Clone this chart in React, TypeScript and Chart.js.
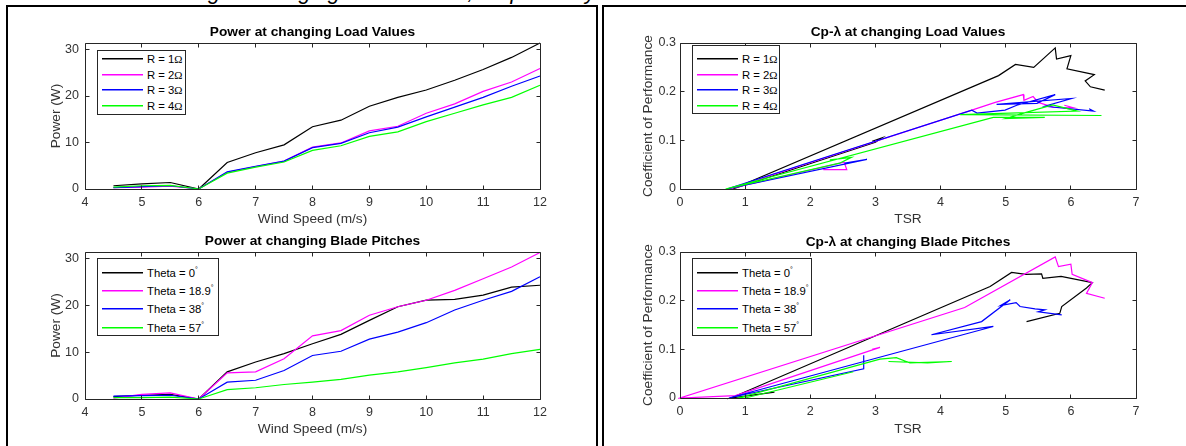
import React, { useEffect, useRef } from 'react';
import { Chart, registerables } from 'chart.js';

Chart.register(...registerables);

// ---------- data ----------
const windSpeed = [4.5, 5, 5.5, 6, 6.5, 7, 7.5, 8, 8.5, 9, 9.5, 10, 10.5, 11, 11.5, 12];

const powerR1 = [0.7, 1.1, 1.4, 0, 5.7, 7.8, 9.5, 13.4, 14.8, 17.8, 19.7, 21.3, 23.4, 25.7, 28.3, 31.4];
const powerR2 = [0.3, 0.4, 0.6, 0, 3.6, 4.8, 6.0, 9.0, 9.9, 12.5, 13.5, 16.3, 18.3, 21.0, 23.0, 25.9];
const powerR3 = [0.3, 0.5, 0.7, 0, 3.7, 4.9, 6.0, 8.9, 9.8, 12.1, 13.3, 15.5, 17.6, 19.7, 22.1, 24.3];
const powerR4 = [0.4, 0.7, 0.8, 0, 3.4, 4.7, 5.8, 8.3, 9.3, 11.3, 12.3, 14.5, 16.3, 18.1, 19.7, 22.3];

const powerT0 = [0.5, 0.8, 1.0, 0, 5.8, 7.9, 9.7, 11.8, 13.8, 16.8, 19.7, 21.1, 21.3, 22.2, 23.9, 24.3];
const powerT189 = [0.2, 1.0, 1.3, 0, 5.6, 5.8, 8.6, 13.5, 14.6, 17.9, 19.7, 21.1, 23.2, 25.7, 28.2, 31.3];
const powerT38 = [0.6, 0.7, 0.8, 0, 3.6, 4.0, 6.1, 9.3, 10.2, 12.8, 14.3, 16.3, 19.0, 21.1, 23.0, 26.1];
const powerT57 = [0.3, 0.3, 0.4, 0, 2.0, 2.4, 3.1, 3.6, 4.2, 5.1, 5.8, 6.7, 7.7, 8.5, 9.7, 10.6];

const tsrR1 = [2.95, 3.1, 3.0, 0.81, 4.89, 5.15, 5.43, 5.76, 5.78, 6.0, 5.94, 6.36, 6.22, 6.3, 6.52];
const cpR1 = [0.098, 0.105, 0.096, 0, 0.233, 0.256, 0.25, 0.29, 0.267, 0.274, 0.247, 0.235, 0.222, 0.21, 0.203];
const tsrR2 = [2.2, 2.56, 2.52, 0.75, 4.48, 4.84, 5.27, 5.28, 5.42, 5.5, 5.73, 6.04, 5.9];
const cpR2 = [0.04, 0.04, 0.055, 0, 0.162, 0.178, 0.194, 0.182, 0.19, 0.178, 0.168, 0.167, 0.172];
const tsrR3 = [2.53, 2.87, 0.72, 4.48, 4.56, 4.99, 5.17, 5.76, 5.48, 4.86, 6.01, 5.6, 6.35, 6.28];
const cpR3 = [0.053, 0.061, 0, 0.162, 0.156, 0.162, 0.172, 0.194, 0.176, 0.174, 0.186, 0.17, 0.16, 0.165];
const tsrR4 = [2.3, 2.63, 2.45, 0.7, 4.81, 5.6, 5.0, 5.3, 5.72, 6.1, 4.3, 6.47];
const cpR4 = [0.06, 0.065, 0.053, 0, 0.147, 0.147, 0.145, 0.157, 0.173, 0.16, 0.153, 0.151];

const tsrT0 = [1.45, 0.78, 4.76, 5.09, 5.31, 5.55, 5.57, 5.85, 6.33, 6.24, 5.86, 5.83, 5.32];
const cpT0 = [0.012, 0, 0.229, 0.258, 0.254, 0.255, 0.246, 0.25, 0.237, 0.226, 0.188, 0.174, 0.157];
const tsrT189 = [2.95, 3.07, 0.85, 0, 4.37, 5.76, 5.81, 6.0, 6.02, 6.33, 6.24, 6.52];
const cpT189 = [0.1, 0.104, 0.005, 0, 0.186, 0.29, 0.27, 0.275, 0.254, 0.237, 0.215, 0.205];
const tsrT38 = [2.82, 2.82, 0.75, 4.81, 3.86, 4.63, 5.07, 4.92, 5.16, 5.22, 5.45, 5.6, 5.5, 5.86];
const cpT38 = [0.088, 0.06, 0, 0.147, 0.13, 0.157, 0.202, 0.19, 0.196, 0.188, 0.183, 0.181, 0.177, 0.171];
const tsrT57 = [2.66, 1.0, 0.9, 3.07, 3.32, 3.53, 4.17, 3.8, 3.2];
const cpT57 = [0.054, 0, 0, 0.08, 0.083, 0.072, 0.075, 0.072, 0.075];

const loadLabels = ['R = 1', 'R = 2', 'R = 3', 'R = 4'];
const pitchLabels = ['Theta = 0', 'Theta = 18.9', 'Theta = 38', 'Theta = 57'];
const seriesColors = ['#000000', '#ff00ff', '#0000ff', '#00ff00'];

const windRange = [4, 12, 1];
const tsrRange = [0, 7, 1];
const powerRange = [0, 31.4, 10];
const cpRange = [0, 0.3, 0.1];

// ---------- styling ----------
const FONT = '"Liberation Sans", Arial, Helvetica, sans-serif';
const AXIS_COLOR = '#262626';
const TEXT_COLOR = '#333333';

const boxPlugin = {
  id: 'matlabBox',
  afterDatasetsDraw(chart: any) {
    const { ctx, chartArea: a, scales } = chart;
    const L = Math.floor(a.left) + 0.5;
    const R = Math.floor(a.right) + 0.5;
    const T = Math.floor(a.top) + 0.5;
    const B = Math.floor(a.bottom) + 0.5;
    ctx.save();
    ctx.strokeStyle = AXIS_COLOR;
    ctx.lineWidth = 1;
    ctx.beginPath();
    ctx.rect(L, T, R - L, B - T);
    const tl = 4;
    scales.x.ticks.forEach((t: any) => {
      const px = Math.floor(scales.x.getPixelForValue(t.value)) + 0.5;
      ctx.moveTo(px, B); ctx.lineTo(px, B - tl);
      ctx.moveTo(px, T); ctx.lineTo(px, T + tl);
    });
    scales.y.ticks.forEach((t: any) => {
      const py = Math.floor(scales.y.getPixelForValue(t.value)) + 0.5;
      ctx.moveTo(L, py); ctx.lineTo(L + tl, py);
      ctx.moveTo(R, py); ctx.lineTo(R - tl, py);
    });
    ctx.stroke();
    ctx.restore();
  },
};

function pairs(xs: number[], ys: number[]) {
  return xs.map((x, i) => ({ x, y: ys[i] }));
}

type PlotSpec = {
  xs: number[][];
  ys: number[][];
  labels: string[];
  xRange: number[];
  yRange: number[];
  xTitle: string;
  yTitle: string;
  padding: { left: number; right: number; top: number; bottom: number };
  yWidth: number;
  xHeight: number;
  yTickPad: number;
  xTitlePad: number;
  yTitlePad: number;
};

function buildConfig(p: PlotSpec): any {
  const datasets = p.ys.map((ys, i) => ({
    label: p.labels[i],
    data: pairs(p.xs[i], ys),
    borderColor: seriesColors[i],
    backgroundColor: seriesColors[i],
    borderWidth: 1.2,
    pointRadius: 0,
    showLine: true,
    fill: false,
    tension: 0,
    order: 3 - i,
    clip: 2,
  }));
  const tickFont = { family: FONT, size: 12.5 };
  const titleFont = { family: FONT, size: 13.7 };
  return {
    type: 'scatter',
    data: { datasets },
    options: {
      responsive: false,
      animation: false,
      events: [],
      layout: { padding: p.padding },
      plugins: { legend: { display: false }, title: { display: false }, tooltip: { enabled: false } },
      scales: {
        x: {
          type: 'linear',
          position: 'bottom',
          min: p.xRange[0],
          max: p.xRange[1],
          ticks: { stepSize: p.xRange[2], includeBounds: false, padding: 6.2, color: TEXT_COLOR, font: tickFont, maxRotation: 0, autoSkip: false },
          grid: { display: false, drawTicks: false },
          border: { display: false },
          title: { display: true, text: p.xTitle, color: TEXT_COLOR, font: titleFont, padding: { top: 0, bottom: p.xTitlePad } },
          afterFit: (s: any) => { s.height = p.xHeight; },
        },
        y: {
          type: 'linear',
          position: 'left',
          min: p.yRange[0],
          max: p.yRange[1],
          ticks: { stepSize: p.yRange[2], includeBounds: false, padding: p.yTickPad, color: TEXT_COLOR, font: tickFont, autoSkip: false },
          grid: { display: false, drawTicks: false },
          border: { display: false },
          title: { display: true, text: p.yTitle, color: TEXT_COLOR, font: titleFont, padding: { top: p.yTitlePad, bottom: 0 } },
          afterFit: (s: any) => { s.width = p.yWidth; },
        },
      },
    },
    plugins: [boxPlugin],
  };
}

function Plot({ left, top, width, height, spec }: { left: number; top: number; width: number; height: number; spec: PlotSpec }) {
  const ref = useRef<HTMLCanvasElement | null>(null);
  useEffect(() => {
    const chart = new Chart(ref.current as HTMLCanvasElement, buildConfig(spec));
    return () => chart.destroy();
  }, []);
  return (
    <div style={{ position: 'absolute', left, top, width, height }}>
      <canvas ref={ref} width={width} height={height} style={{ width, height, display: 'block' }} />
    </div>
  );
}

function Legend({ left, top, width, height, rows, entries }: { left: number; top: number; width: number; height: number; rows: number[]; entries: React.ReactNode[] }) {
  return (
    <div style={{ position: 'absolute', left, top, width, height, border: `1px solid ${AXIS_COLOR}`, background: '#fff', boxSizing: 'border-box' }}>
      {entries.map((e, i) => (
        <React.Fragment key={i}>
          <div style={{ position: 'absolute', left: 4, top: Math.round(rows[i] - top - 2), width: 41, height: 1, background: seriesColors[i], boxShadow: `0 0.5px 0 ${seriesColors[i]}` }} />
          <div style={{ position: 'absolute', left: 49, top: rows[i] - top - 8, height: 14, lineHeight: '14px', fontSize: 11.3, fontFamily: FONT, color: '#000', whiteSpace: 'nowrap' }}>{e}</div>
        </React.Fragment>
      ))}
    </div>
  );
}

const ohm = (l: string) => (<span>{l}<span style={{ fontFamily: '"Liberation Serif", "DejaVu Serif", serif', fontSize: 11 }}>Ω</span></span>);
const deg = (l: string) => (<span>{l}<sup style={{ fontSize: 7, verticalAlign: 'top', position: 'relative', top: -3 }}>°</sup></span>);

function Title({ left, width, top, text }: { left: number; width: number; top: number; text: string }) {
  return (
    <div style={{ position: 'absolute', left, width, top, textAlign: 'center', fontFamily: FONT, fontWeight: 'bold', fontSize: 13.7, lineHeight: '16px', color: '#000', whiteSpace: 'nowrap' }}>{text}</div>
  );
}

const specTL: PlotSpec = {
  xs: [windSpeed, windSpeed, windSpeed, windSpeed],
  ys: [powerR1, powerR2, powerR3, powerR4],
  labels: loadLabels, xRange: windRange, yRange: powerRange,
  xTitle: 'Wind Speed (m/s)', yTitle: 'Power (W)',
  padding: { left: 0, right: 40, top: 23, bottom: 0 }, yWidth: 65, xHeight: 41, yTickPad: 6, xTitlePad: 2.3, yTitlePad: 28.3,
};
const specBL: PlotSpec = {
  xs: [windSpeed, windSpeed, windSpeed, windSpeed],
  ys: [powerT0, powerT189, powerT38, powerT57],
  labels: pitchLabels, xRange: windRange, yRange: powerRange,
  xTitle: 'Wind Speed (m/s)', yTitle: 'Power (W)',
  padding: { left: 0, right: 40, top: 22, bottom: 0 }, yWidth: 65, xHeight: 47, yTickPad: 6, xTitlePad: 8.8, yTitlePad: 28.3,
};
const specTR: PlotSpec = {
  xs: [tsrR1, tsrR2, tsrR3, tsrR4],
  ys: [cpR1, cpR2, cpR3, cpR4],
  labels: loadLabels, xRange: tsrRange, yRange: cpRange,
  xTitle: 'TSR', yTitle: 'Coefficient of Performance',
  padding: { left: 0, right: 34, top: 23, bottom: 0 }, yWidth: 70, xHeight: 41, yTickPad: 4, xTitlePad: 2.3, yTitlePad: 29.8,
};
const specBR: PlotSpec = {
  xs: [tsrT0, tsrT189, tsrT38, tsrT57],
  ys: [cpT0, cpT189, cpT38, cpT57],
  labels: pitchLabels, xRange: tsrRange, yRange: cpRange,
  xTitle: 'TSR', yTitle: 'Coefficient of Performance',
  padding: { left: 0, right: 34, top: 22, bottom: 0 }, yWidth: 70, xHeight: 48, yTickPad: 4, xTitlePad: 8.8, yTitlePad: 29.8,
};

export default function App() {
  return (
    <div style={{ position: 'fixed', left: 0, top: 0, width: 1186, height: 446, background: '#fff', overflow: 'hidden' }}>
      <div style={{ position: 'absolute', left: 150, top: -21, fontFamily: FONT, fontStyle: 'italic', fontSize: 22, lineHeight: '25px', color: '#000', whiteSpace: 'nowrap' }}>
        Testing at changing Load Values, respectively
      </div>
      <div style={{ position: 'absolute', left: 6, top: 5, width: 592, height: 470, border: '2px solid #000', boxSizing: 'border-box', background: '#fff' }} />
      <div style={{ position: 'absolute', left: 602, top: 5, width: 600, height: 470, border: '2px solid #000', boxSizing: 'border-box', background: '#fff' }} />

      <Plot left={20} top={20} width={560} height={210} spec={specTL} />
      <Plot left={20} top={230} width={560} height={216} spec={specBL} />
      <Plot left={610} top={20} width={560} height={210} spec={specTR} />
      <Plot left={610} top={230} width={560} height={216} spec={specBR} />

      <Title left={85} width={455} top={24} text="Power at changing Load Values" />
      <Title left={85} width={455} top={233} text="Power at changing Blade Pitches" />
      <Title left={680} width={456} top={24} text="Cp-λ at changing Load Values" />
      <Title left={680} width={456} top={234} text="Cp-λ at changing Blade Pitches" />

      <Legend left={97} top={50} width={89} height={65} rows={[59, 74.5, 90, 105.5]} entries={loadLabels.map(ohm)} />
      <Legend left={97} top={258} width={122} height={78} rows={[272.7, 290.7, 309.2, 327.5]} entries={pitchLabels.map(deg)} />
      <Legend left={692} top={45} width={88} height={69} rows={[59, 74.5, 90, 105.5]} entries={loadLabels.map(ohm)} />
      <Legend left={692} top={258} width={120} height={78} rows={[272.7, 290.7, 309.2, 327.5]} entries={pitchLabels.map(deg)} />
    </div>
  );
}
